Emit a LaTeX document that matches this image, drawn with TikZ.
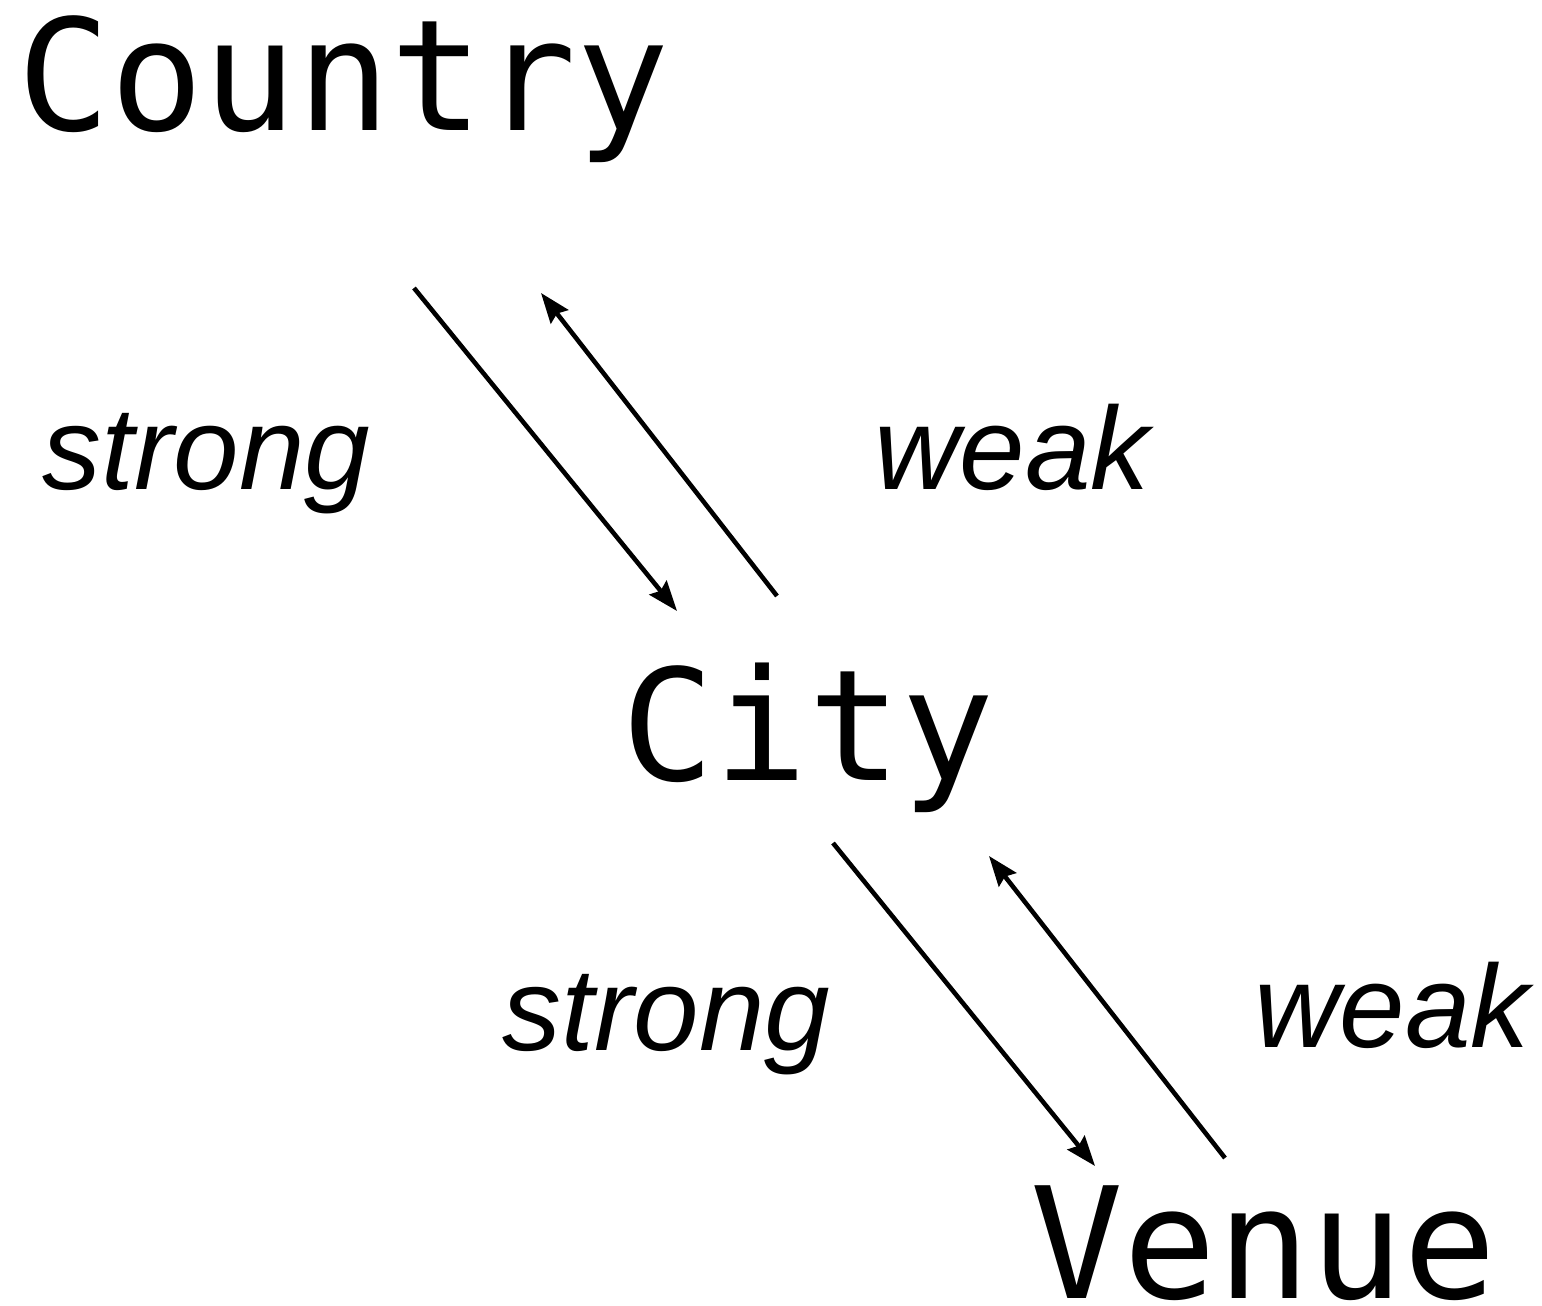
\documentclass[tikz,border=0pt]{standalone}
\usepackage{fontspec}
\setmainfont{Liberation Sans}
\newfontfamily\monofont{DejaVu Sans Mono}
\usetikzlibrary{arrows.meta}
\begin{document}
\begin{tikzpicture}[x=0.01cm,y=-0.01cm,
  entity/.style={inner sep=0pt,anchor=base west,font=\monofont\fontsize{44pt}{50pt}\selectfont},
  rel/.style={inner sep=0pt,anchor=base west,font=\itshape\fontsize{33.5pt}{40pt}\selectfont},
  link/.style={line width=1.3pt,-{Stealth[length=0.3cm,width=0.22cm,inset=0.04cm]}}]
\useasboundingbox (0,0) rectangle (1542,1306);
\node[entity] (country) at (17,130) {Country};
\node[entity] (city) at (621,780) {City};
\node[entity] (venue) at (1030,1298) {Venue};
\node[rel] (s1) at (42,489) {strong};
\node[rel] (w1) at (874,489) {weak};
\node[rel] (s2) at (502,1050) {strong};
\node[rel] (w2) at (1254,1047) {weak};
\coordinate (a1s) at (414,288);
\coordinate (a1e) at (677,611);
\coordinate (a2s) at (777,596);
\coordinate (a2e) at (541,293);
\coordinate (a3s) at (833,843);
\coordinate (a3e) at (1095,1166);
\coordinate (a4s) at (1225,1158);
\coordinate (a4e) at (989,856);
\draw[link] (a1s) -- (a1e);
\draw[link] (a2s) -- (a2e);
\draw[link] (a3s) -- (a3e);
\draw[link] (a4s) -- (a4e);
\end{tikzpicture}
\end{document}
